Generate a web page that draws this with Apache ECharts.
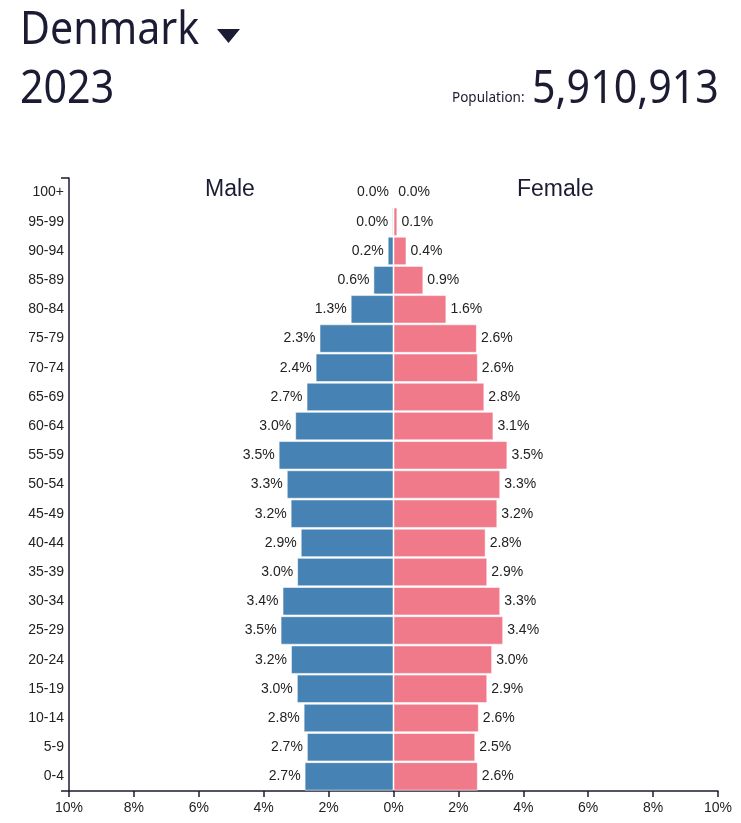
<!DOCTYPE html>
<html><head><meta charset="utf-8">
<script src="https://cdn.jsdelivr.net/npm/echarts@6/dist/echarts.min.js"></script>
<style>html,body{margin:0;padding:0;background:#fff}#c{width:741px;height:823px}</style>
</head><body><div id="c"></div>
<script>
const ageGroups = ['0-4','5-9','10-14','15-19','20-24','25-29','30-34','35-39','40-44','45-49','50-54','55-59','60-64','65-69','70-74','75-79','80-84','85-89','90-94','95-99','100+'];
const malePct =   [2.74,2.67,2.77,2.98,3.16,3.48,3.42,2.97,2.86,3.17,3.29,3.54,3.03,2.68,2.40,2.28,1.32,0.62,0.18,0.04,0.005];
const femalePct = [2.60,2.52,2.63,2.89,3.04,3.38,3.29,2.89,2.84,3.20,3.29,3.51,3.08,2.80,2.60,2.57,1.63,0.92,0.40,0.12,0.01];
const xTicks = {min:-10, max:10, interval:2};
const country = 'Denmark', year = '2023', population = '5,910,913';

const chart = echarts.init(document.getElementById('c'), null, {renderer:'canvas'});
const dark = '#1b1b33';
const lblFont = '"Liberation Sans", Arial, sans-serif';
const titleFont = '"Noto Sans", sans-serif';
chart.setOption({
  animation:false,
  grid:{left:69, right:23, top:178, bottom:32, containLabel:false},
  xAxis:{type:'value', min:xTicks.min, max:xTicks.max, interval:xTicks.interval,
    splitLine:{show:false},
    axisLine:{show:true, lineStyle:{color:dark, width:1.5}},
    axisTick:{show:true, length:6, lineStyle:{color:dark, width:1.5}},
    axisLabel:{formatter:v=>Math.abs(v)+'%', color:'#222', fontSize:14, fontFamily:lblFont, margin:10}},
  yAxis:{type:'category', data:ageGroups,
    axisLine:{show:true, onZero:false, lineStyle:{color:dark, width:1.5}},
    axisTick:{show:true, length:8, lineStyle:{color:dark,width:1.5}, interval:(i)=> i===0},
    axisLabel:{color:'#222', fontSize:14, fontFamily:lblFont, margin:5}},
  series:[
    {name:'Male', type:'bar', stack:'p', barWidth:28.5,
     data:malePct.map(v=>-v),
     itemStyle:{color:'#4682b4', borderColor:'rgba(255,255,255,0.55)', borderWidth:1},
     label:{show:true, position:'left', distance:4, formatter:p=>Math.abs(p.value).toFixed(1)+'%', color:'#222', fontSize:14, fontFamily:lblFont}},
    {name:'Female', type:'bar', stack:'p', barWidth:28.5,
     data:femalePct,
     itemStyle:{color:'#f07a8a', borderColor:'rgba(255,255,255,0.55)', borderWidth:1},
     label:{show:true, position:'right', distance:4, formatter:p=>p.value.toFixed(1)+'%', color:'#222', fontSize:14, fontFamily:lblFont}}
  ],
  graphic:[
    {type:'text', x:20, y:8, scaleX:0.895, style:{text:country, font:'46px '+titleFont, fill:dark}},
    {type:'polygon', shape:{points:[[217,29],[240,29],[228.5,43]]}, style:{fill:dark}},
    {type:'text', x:20, y:67, scaleX:0.895, style:{text:year, font:'46px '+titleFont, fill:dark}},
    {type:'text', x:532, y:67, scaleX:0.895, style:{text:population, font:'46px '+titleFont, fill:dark}},
    {type:'text', x:452, y:91, style:{text:'Population:', font:'13.5px '+titleFont, fill:dark}},
    {type:'text', x:205, y:178, style:{text:'Male', font:'23px '+lblFont, fill:dark}},
    {type:'text', x:517, y:178, style:{text:'Female', font:'23px '+lblFont, fill:dark}}
  ]
});
</script></body></html>
